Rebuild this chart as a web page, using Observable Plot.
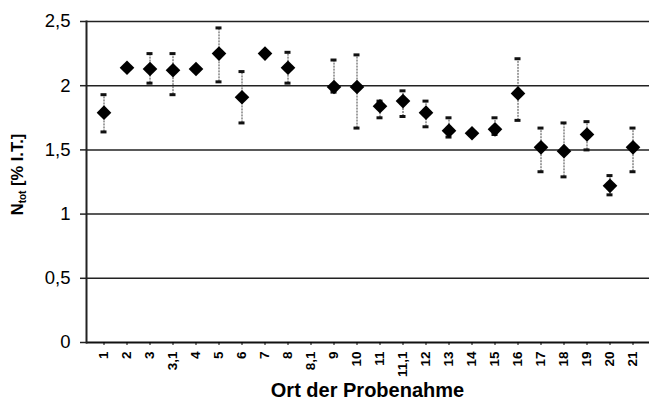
<!DOCTYPE html>
<html>
<head>
<meta charset="utf-8">
<script src="https://cdn.jsdelivr.net/npm/d3@7"></script>
<script src="https://cdn.jsdelivr.net/npm/@observablehq/plot@0.6"></script>
<style>
  html, body { margin: 0; padding: 0; background: white; }
</style>
</head>
<body>
<div id="chart"></div>
<script>
const sites = ["1","2","3","3,1","4","5","6","7","8","8,1","9","10","11","11,1","12","13","14","15","16","17","18","19","20","21"];
const meanValues = [1.79, 2.14, 2.13, 2.12, 2.13, 2.25, 1.91, 2.25, 2.14, null, 1.99, 1.99, 1.84, 1.88, 1.79, 1.65, 1.63, 1.66, 1.94, 1.52, 1.49, 1.62, 1.22, 1.52];
const upperValues = [1.93, null, 2.25, 2.25, null, 2.45, 2.11, null, 2.26, null, 2.20, 2.24, 1.88, 1.96, 1.88, 1.75, null, 1.75, 2.21, 1.67, 1.71, 1.72, 1.30, 1.67];
const lowerValues = [1.64, null, 2.02, 1.93, null, 2.03, 1.71, null, 2.02, null, 1.95, 1.67, 1.75, 1.76, 1.68, 1.60, null, 1.62, 1.73, 1.33, 1.29, 1.50, 1.15, 1.33];
const yTicks = [0, 0.5, 1, 1.5, 2, 2.5];
const xTitle = "Ort der Probenahme";

const rows = sites.map((s, i) => ({site: s, mean: meanValues[i], upper: upperValues[i], lower: lowerValues[i]}));
const pts = rows.filter(d => d.mean != null);
const bars = rows.filter(d => d.upper != null);

const fmt = d => String(d).replace(".", ",");

const svg = Plot.plot({
  width: 649,
  height: 403,
  marginLeft: 86,
  marginRight: 0,
  marginTop: 21,
  marginBottom: 61,
  style: {fontFamily: "'Liberation Sans', Arial, sans-serif", background: "white", color: "black"},
  x: {type: "band", domain: sites, padding: 0, label: null},
  y: {domain: [0, 2.5], label: null},
  marks: [
    Plot.ruleY(yTicks.slice(1), {stroke: "#222", strokeWidth: 1.5}),
    Plot.ruleY([0], {stroke: "#111", strokeWidth: 2}),
    Plot.frame({anchor: "left", stroke: "#222", strokeWidth: 2}),
    Plot.ruleX(bars, {x: "site", y1: "lower", y2: "upper", stroke: "#444", strokeWidth: 1, strokeDasharray: "2,1"}),
    Plot.tickY(bars, {x: "site", y: "upper", stroke: "#111", strokeWidth: 3, insetLeft: 8.5, insetRight: 8.5}),
    Plot.tickY(bars, {x: "site", y: "lower", stroke: "#111", strokeWidth: 3, insetLeft: 8.5, insetRight: 8.5}),
    Plot.dot(pts, {x: "site", y: "mean", symbol: "diamond2", r: 6.6, fill: "black", stroke: "none"}),
    Plot.axisY({ticks: yTicks, tickSize: 6, tickPadding: 10, tickFormat: fmt, fontSize: 18.5, label: null, stroke: "#222", strokeWidth: 1.5}),
    Plot.axisX({tickSize: 3, tickRotate: -90, tickPadding: 6, fontSize: 13.5, fontWeight: "bold", label: null})
  ]
});

const s = d3.select(svg);
s.append("text")
  .attr("x", 367.5)
  .attr("y", 397)
  .attr("text-anchor", "middle")
  .attr("font-family", "'Liberation Sans', Arial, sans-serif")
  .attr("font-weight", "bold")
  .attr("font-size", 20)
  .attr("fill", "black")
  .text(xTitle);

const yl = s.append("text")
  .attr("transform", "translate(23,174.5) rotate(-90)")
  .attr("text-anchor", "middle")
  .attr("font-family", "'Liberation Sans', Arial, sans-serif")
  .attr("font-weight", "bold")
  .attr("font-size", 16.5)
  .attr("fill", "black");
yl.append("tspan").text("N");
yl.append("tspan").attr("font-size", 10).attr("dy", 3).text("tot");
yl.append("tspan").attr("dy", -3).text(" [% I.T.]");

document.getElementById("chart").appendChild(svg);
</script>
</body>
</html>
